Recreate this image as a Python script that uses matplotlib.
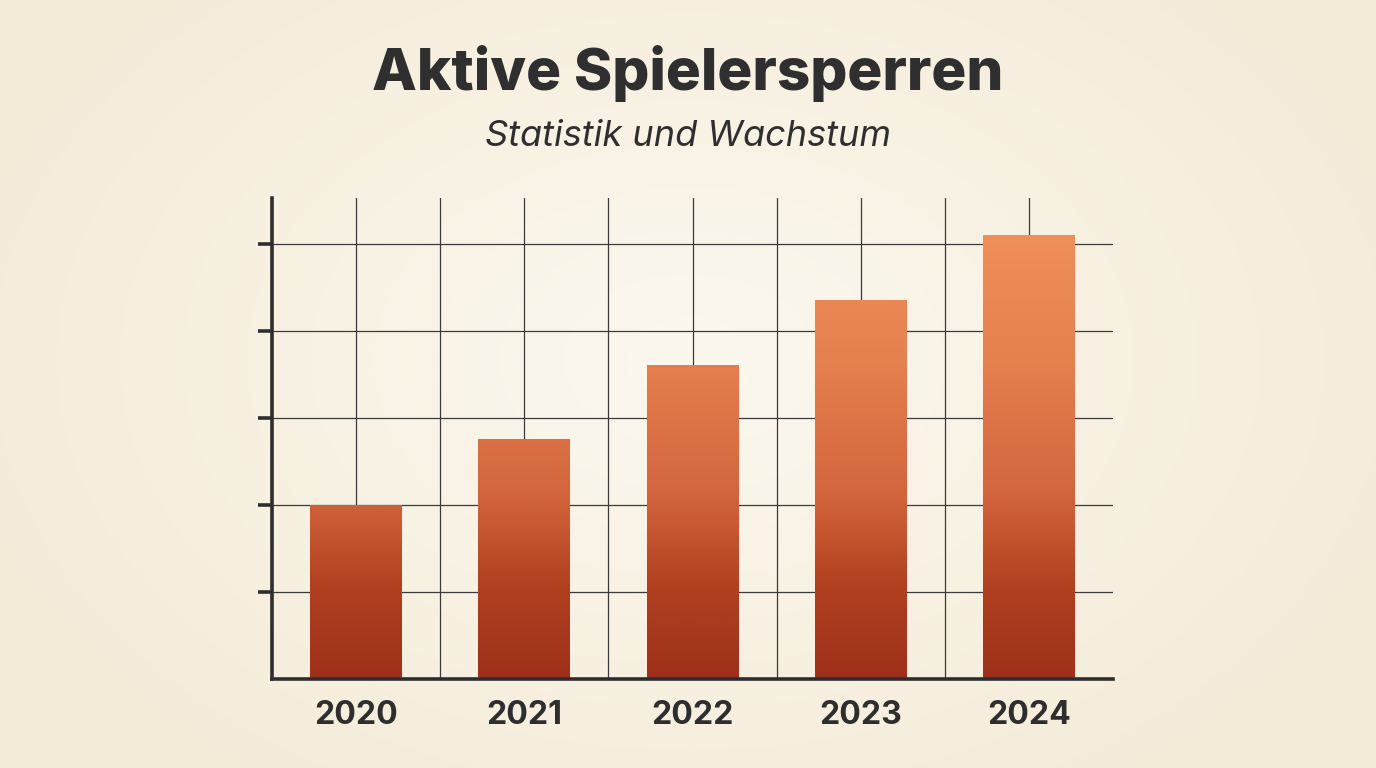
import numpy as np
import matplotlib
matplotlib.use("Agg")
import matplotlib.pyplot as plt
from matplotlib.colors import LinearSegmentedColormap

# ---- data ----
years = ["2020", "2021", "2022", "2023", "2024"]
values = [2.0, 2.75, 3.6, 4.35, 5.1]
title = "Aktive Spielersperren"
subtitle = "Statistik und Wachstum"

# ---- style ----
W, H, DPI = 13.76, 7.68, 100
fig = plt.figure(figsize=(W, H), dpi=DPI)

# background radial gradient
bg = fig.add_axes([0, 0, 1, 1], zorder=-10)
yy, xx = np.mgrid[0:768, 0:1376]
r = np.sqrt(((xx - 690) / 760.0) ** 2 + ((yy - 360) / 520.0) ** 2)
r = np.clip(r, 0, 1)
c_in = np.array([0xFC, 0xF8, 0xEF]) / 255.0
c_out = np.array([0xF4, 0xEC, 0xD9]) / 255.0
img = c_in[None, None, :] * (1 - r[..., None]) + c_out[None, None, :] * r[..., None]
bg.imshow(img, aspect="auto", extent=[0, 1, 0, 1], origin="upper")
bg.set_axis_off()

ax = fig.add_axes([272 / 1376, 1 - 679 / 768, (1113 - 272) / 1376, (679 - 198) / 768])
ax.set_facecolor("none")

n = len(years)
xpos = np.arange(1, 2 * n, 2)
bar_w = 1.09
ymax = 5.53

cmap = LinearSegmentedColormap.from_list(
    "bar", [(0.0, "#9E311B"), (0.2, "#B0401F"), (0.4, "#D2643C"), (0.7, "#E5804F"), (1.0, "#F0905A")]
)
gmax = 5.2
for x, v in zip(xpos, values):
    grad = np.linspace(0, v, 256).reshape(-1, 1)
    ax.imshow(grad, cmap=cmap, vmin=0, vmax=gmax, origin="lower", aspect="auto",
              extent=[x - bar_w / 2, x + bar_w / 2, 0, v], zorder=3, interpolation="bilinear")
ax.set_xlim(0, 2 * n)
ax.set_ylim(0, ymax)

# grid
ax.set_xticks(xpos)
ax.set_xticklabels(years, fontsize=23, fontweight="bold", color="#2E2E2E", family="Inter")
ax.set_xticks(np.arange(2, 2 * n, 2), minor=True)
ax.tick_params(axis="x", which="both", length=0, pad=15)
ax.set_yticks(np.arange(1, 6))
ax.set_yticklabels([])
ax.tick_params(axis="y", length=10, width=2.6, color="#2E2E2E", direction="out")
ax.grid(True, which="both", axis="x", color="#3A3A3A", linewidth=0.9, zorder=1)
ax.grid(True, which="major", axis="y", color="#3A3A3A", linewidth=0.9, zorder=1)
ax.set_axisbelow(True)

for s in ["top", "right"]:
    ax.spines[s].set_visible(False)
for s in ["left", "bottom"]:
    ax.spines[s].set_linewidth(2.6)
    ax.spines[s].set_color("#2E2E2E")
    ax.spines[s].set_zorder(5)

fig.text(0.5, 1 - 73 / 768, title, ha="center", va="center", fontsize=42,
         fontweight="heavy", color="#2F2F2F", family="Inter")
fig.text(0.5, 1 - 136 / 768, subtitle, ha="center", va="center", fontsize=26,
         fontstyle="italic", color="#2F2F2F", family="Inter")

fig.savefig("out.png", dpi=DPI)
